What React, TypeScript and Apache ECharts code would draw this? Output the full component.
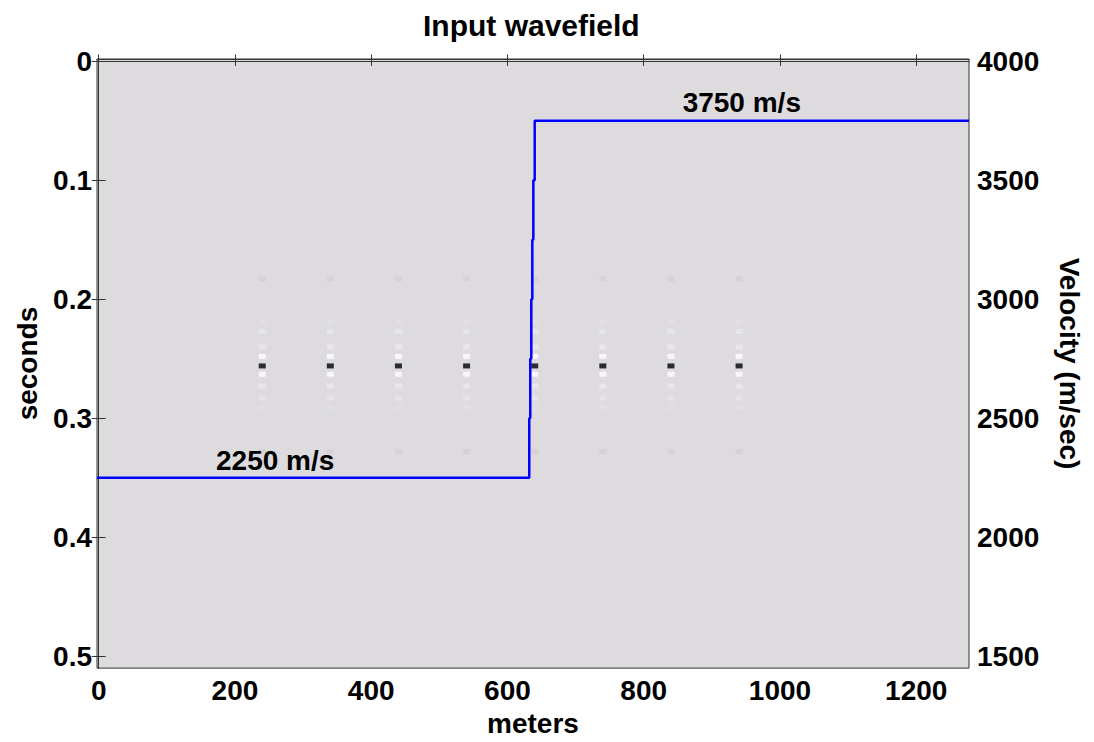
import React, { useEffect, useRef } from "react";
import * as echarts from "echarts";

// Trace positions (m) carrying the impulse wavelet
const traceX = [240, 340, 440, 540, 640, 740, 840, 940];
// Wavelet sample times (s) and amplitudes
const sampleT = [0.183, 0.219, 0.227, 0.24, 0.248, 0.256, 0.263, 0.273, 0.283, 0.291, 0.328];
const sampleAmp = [0.05, -0.03, -0.07, -0.08, -0.2, 1, -0.2, -0.08, -0.06, -0.03, 0.05];

// Velocity model profile (m, m/s)
const velX = [-2.5, 632, 632, 633.5, 633.5, 635, 635, 636.5, 636.5, 638, 638, 640, 640, 1277.5];
const velV = [2250, 2250, 2500, 2500, 2750, 2750, 3000, 3000, 3250, 3250, 3500, 3500, 3750, 3750];

// Annotations
const noteX = [259, 944];
const noteV = [2324, 3826];
const noteText = ["2250 m/s", "3750 m/s"];

const xTicks = [0, 200, 400, 600, 800, 1000, 1200];
const tTicks = [0, 0.1, 0.2, 0.3, 0.4, 0.5];
const vTicks = [1500, 2000, 2500, 3000, 3500, 4000];

const FONT = "Liberation Sans, Arial, Helvetica, sans-serif";
const FS = 28;

function grayFor(a: number): string {
  const min = -0.2;
  const max = 1;
  const bg = 221;
  let g: number;
  if (a >= 0) g = bg * (1 - a / max);
  else g = bg + (255 - bg) * (a / min);
  g = Math.max(0, Math.min(255, Math.round(g)));
  return `rgb(${g},${Math.max(0, g - 2)},${Math.min(255, g + 1)})`;
}

export default function App() {
  const ref = useRef<HTMLDivElement>(null);
  useEffect(() => {
    document.body.style.margin = "0";
    if (!ref.current) return;
    const chart = echarts.init(ref.current, undefined, { renderer: "svg" });

    const spikes: any[] = [];
    traceX.forEach((x) => {
      sampleT.forEach((t, i) => {
        spikes.push([x, t, sampleAmp[i]]);
      });
    });
    const vel = velX.map((x, i) => [x, velV[i]]);
    const notes = noteX.map((x, i) => ({
      name: noteText[i],
      coord: [x, noteV[i]],
    }));

    const axisLine = { show: true, lineStyle: { color: "#333", width: 1 } };
    const tickStyle = { inside: true, length: 7, lineStyle: { color: "#333", width: 1 } };
    const labelStyle = { color: "#000", fontFamily: FONT, fontWeight: "bold" as const, fontSize: FS };
    const plain = (v: number) => String(v);

    chart.setOption({
      animation: false,
      backgroundColor: "#fff",
      title: {
        text: "Input wavefield",
        left: 418,
        top: 5,
        textStyle: { ...labelStyle, fontSize: 30 },
      },
      grid: {
        left: 97,
        right: 125,
        top: 59,
        bottom: 71,
        show: true,
        backgroundColor: "#dddbde",
        borderColor: "#333",
        borderWidth: 1,
      },
      xAxis: [
        {
          type: "value",
          min: -2.5,
          max: 1277.5,
          position: "bottom",
          name: "meters",
          nameLocation: "middle",
          nameGap: 40,
          nameTextStyle: labelStyle,
          axisLine,
          axisTick: { ...tickStyle, customValues: xTicks },
          axisLabel: { ...labelStyle, margin: 8, customValues: xTicks, formatter: plain },
          splitLine: { show: false },
        },
        {
          type: "value",
          min: -2.5,
          max: 1277.5,
          position: "top",
          axisLine,
          axisTick: { ...tickStyle, customValues: xTicks },
          axisLabel: { show: false },
          splitLine: { show: false },
        },
      ],
      yAxis: [
        {
          type: "value",
          inverse: true,
          min: -0.002,
          max: 0.51,
          position: "left",
          name: "seconds",
          nameLocation: "middle",
          nameGap: 56,
          nameRotate: 90,
          nameTextStyle: labelStyle,
          axisLine,
          axisTick: { ...tickStyle, customValues: tTicks },
          axisLabel: {
            ...labelStyle,
            margin: 5,
            customValues: tTicks,
            formatter: (v: number) => (v === 0 ? "0" : String(Math.round(v * 10) / 10)),
          },
          splitLine: { show: false },
        },
        {
          type: "value",
          min: 1450,
          max: 4010,
          position: "right",
          name: "Velocity (m/sec)",
          nameLocation: "middle",
          nameGap: 86,
          nameRotate: -90,
          nameTextStyle: labelStyle,
          axisLine,
          axisTick: { ...tickStyle, customValues: vTicks },
          axisLabel: { ...labelStyle, margin: 8, customValues: vTicks, formatter: plain },
          splitLine: { show: false },
        },
      ],
      series: [
        {
          type: "scatter",
          xAxisIndex: 0,
          yAxisIndex: 0,
          symbol: "rect",
          symbolSize: [7, 5],
          data: spikes,
          itemStyle: { color: (p: any) => grayFor(p.value[2]) },
          silent: true,
        },
        {
          type: "line",
          xAxisIndex: 0,
          yAxisIndex: 1,
          data: vel,
          symbol: "none",
          lineStyle: { color: "#0000ff", width: 2.5 },
          silent: true,
          markPoint: {
            symbol: "circle",
            symbolSize: 0,
            silent: true,
            itemStyle: { color: "#000" },
            label: {
              show: true,
              position: "inside",
              formatter: (p: any) => p.name,
              ...labelStyle,
              color: "#000",
              textBorderWidth: 0,
              opacity: 1,
            },
            data: notes,
          },
        },
      ],
    });
    return () => chart.dispose();
  }, []);
  return <div ref={ref} style={{ width: 1094, height: 742 }} />;
}
